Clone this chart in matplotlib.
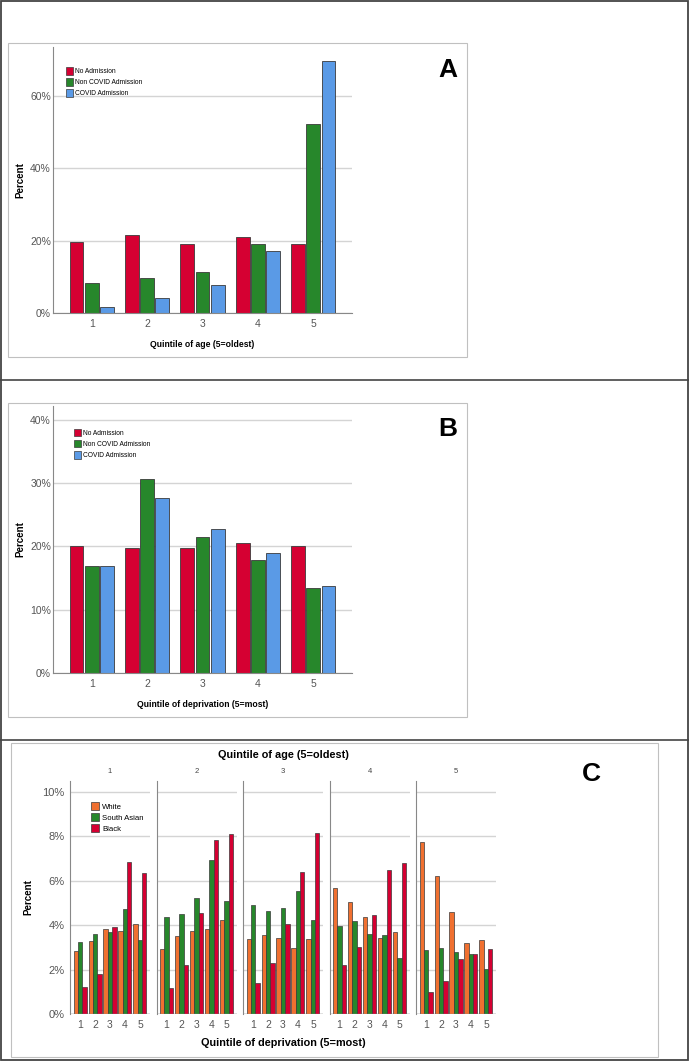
import numpy as np
import matplotlib.pyplot as plt
from matplotlib.patches import Patch, Rectangle
from matplotlib.lines import Line2D
from matplotlib.ticker import FuncFormatter

plt.rcParams['font.family'] = ['Liberation Sans', 'DejaVu Sans']

# ---- data ----
quintiles = ['1', '2', '3', '4', '5']
admit_groups = ['No Admission', 'Non COVID Admission', 'COVID Admission']

# panel A: quintile of age
age_no_adm = [19.6, 21.4, 19.1, 20.9, 19.1]
age_non_covid = [8.4, 9.6, 11.2, 19.0, 52.1]
age_covid = [1.7, 4.1, 7.7, 17.2, 69.6]

# panel B: quintile of deprivation
dep_no_adm = [20.0, 19.8, 19.8, 20.5, 20.1]
dep_non_covid = [16.9, 30.6, 21.5, 17.8, 13.5]
dep_covid = [16.9, 27.6, 22.8, 18.9, 13.8]

# panel C: ethnicity by deprivation quintile, one list per age quintile
ethnic_groups = ['White', 'South Asian', 'Black']
white = [
    [2.86, 3.31, 3.83, 3.75, 4.05],
    [2.91, 3.52, 3.75, 3.81, 4.25],
    [3.39, 3.54, 3.43, 2.97, 3.37],
    [5.68, 5.05, 4.35, 3.43, 3.69],
    [7.73, 6.20, 4.58, 3.18, 3.34],
]
south_asian = [
    [3.25, 3.61, 3.70, 4.73, 3.34],
    [4.37, 4.52, 5.23, 6.93, 5.11],
    [4.89, 4.62, 4.77, 5.54, 4.25],
    [3.98, 4.17, 3.61, 3.54, 2.52],
    [2.89, 2.97, 2.80, 2.71, 2.02],
]
black = [
    [1.23, 1.82, 3.92, 6.84, 6.34],
    [1.17, 2.23, 4.56, 7.83, 8.13],
    [1.39, 2.29, 4.07, 6.39, 8.15],
    [2.20, 3.04, 4.44, 6.51, 6.79],
    [0.99, 1.49, 2.47, 2.71, 2.95],
]

RED = '#D50032'
GREEN = '#27872B'
BLUE = '#5A9AE6'
ORANGE = '#F07030'
EDGE = '#3a3a3a'
GRID = '#d4d4d4'
TICK = '#555555'

W, H = 689, 1061
fig = plt.figure(figsize=(W / 100, H / 100), dpi=100)


def box(x0, y0, x1, y1):
    return [x0 / W, 1 - y1 / H, (x1 - x0) / W, (y1 - y0) / H]


def fig_rect(x0, y0, x1, y1, color, lw):
    fig.patches.append(Rectangle((x0 / W, 1 - y1 / H), (x1 - x0) / W, (y1 - y0) / H,
                                 transform=fig.transFigure, fill=False,
                                 edgecolor=color, linewidth=lw))


def fig_hline(y, color, lw):
    fig.lines.append(Line2D([0, 1], [1 - y / H, 1 - y / H], transform=fig.transFigure,
                            color=color, linewidth=lw))


# outer frames
fig_rect(0.5, 0.5, W - 1.5, H - 1, '#444444', 1.3)
fig_hline(380, '#444444', 1.2)
fig_hline(740, '#444444', 1.2)
fig_rect(8, 43, 467, 357, '#c0c0c0', 0.8)
fig_rect(8, 403, 467, 717, '#c0c0c0', 0.8)
fig_rect(11, 743, 658, 1057, '#c0c0c0', 0.8)

pct = FuncFormatter(lambda v, p: f'{v:.0f}%')


def style_axes(ax, ymax, yticks, tick_size):
    ax.set_ylim(0, ymax)
    ax.set_yticks(yticks)
    ax.yaxis.set_major_formatter(pct)
    ax.grid(axis='y', color=GRID, linewidth=1)
    ax.set_axisbelow(True)
    for s in ['top', 'right']:
        ax.spines[s].set_visible(False)
    ax.spines['left'].set_color('#888888')
    ax.spines['bottom'].set_color('#888888')
    ax.tick_params(length=0, labelsize=tick_size, labelcolor=TICK, pad=4)


def admission_panel(rect, series, ymax, yticks, xlabel, letter, leg_xy):
    ax = fig.add_axes(box(*rect))
    x = np.arange(1, 6)
    step = 0.276
    width = 0.25
    colors = [RED, GREEN, BLUE]
    for i, vals in enumerate(series):
        ax.bar(x + (i - 1) * step, vals, width, color=colors[i], edgecolor=EDGE, linewidth=0.6)
    ax.set_xlim(0.3, 5.7)
    ax.set_xticks(x)
    ax.set_xticklabels(quintiles)
    style_axes(ax, ymax, yticks, 7.5)
    ax.tick_params(axis='y', pad=1.5)
    ax.set_ylabel('Percent', fontsize=7, fontweight='bold', labelpad=3)
    ax.set_xlabel(xlabel, fontsize=6.2, fontweight='bold', labelpad=8)
    handles = [Patch(facecolor=c, edgecolor=EDGE, linewidth=0.5) for c in colors]
    ax.legend(handles, admit_groups, loc='upper left', bbox_to_anchor=leg_xy, frameon=False,
              fontsize=4.8, handlelength=1.0, handleheight=1.4, handletextpad=0.3,
              labelspacing=0.45, borderpad=0, borderaxespad=0)
    fig.text(448 / W, 1 - rect[1] / H - 23 / H, letter, fontsize=19, fontweight='bold',
             ha='center', va='center')
    return ax


admission_panel((53, 47, 352, 313), [age_no_adm, age_non_covid, age_covid],
                73.4, [0, 20, 40, 60], 'Quintile of age (5=oldest)', 'A', (0.045, 0.925))
admission_panel((53, 406, 352, 673), [dep_no_adm, dep_non_covid, dep_covid],
                42.2, [0, 10, 20, 30, 40], 'Quintile of deprivation (5=most)', 'B', (0.07, 0.915))

# panel C facets
eth_colors = [ORANGE, GREEN, RED]
x = np.arange(1, 6)
for k in range(5):
    left = 70 + 86.5 * k
    ax = fig.add_axes(box(left, 781, left + 80, 1014))
    for i, vals in enumerate([white[k], south_asian[k], black[k]]):
        ax.bar(x + (i - 1) * 0.29, vals, 0.29, color=eth_colors[i], edgecolor=EDGE, linewidth=0.5)
    ax.set_xlim(0.33, 5.67)
    ax.set_xticks(x)
    ax.set_xticklabels(quintiles)
    style_axes(ax, 10.5, [0, 2, 4, 6, 8, 10], 8)
    ax.tick_params(axis='x', labelsize=7.5)
    ax.spines['bottom'].set_visible(False)
    ax.axhline(0, color='#888888', linewidth=1)
    ax.set_title(quintiles[k], fontsize=5.5, color='#444444', pad=6)
    if k == 0:
        ax.set_ylabel('Percent', fontsize=7, fontweight='bold', labelpad=6)
        handles = [Patch(facecolor=c, edgecolor=EDGE, linewidth=0.5) for c in eth_colors]
        ax.legend(handles, ethnic_groups, loc='upper left', bbox_to_anchor=(0.26, 0.91),
                  frameon=False, fontsize=5.6, handlelength=1.0, handleheight=1.3,
                  handletextpad=0.5, labelspacing=0.28, borderpad=0, borderaxespad=0)
    else:
        ax.tick_params(labelleft=False)

fig.text(283 / W, 1 - 755 / H, 'Quintile of age (5=oldest)', fontsize=7.8, fontweight='bold',
         ha='center', va='center')
fig.text(283 / W, 1 - 1043 / H, 'Quintile of deprivation (5=most)', fontsize=7.8,
         fontweight='bold', ha='center', va='center')
fig.text(591 / W, 1 - 774 / H, 'C', fontsize=19, fontweight='bold', ha='center', va='center')

fig.savefig('out.png', dpi=100)
